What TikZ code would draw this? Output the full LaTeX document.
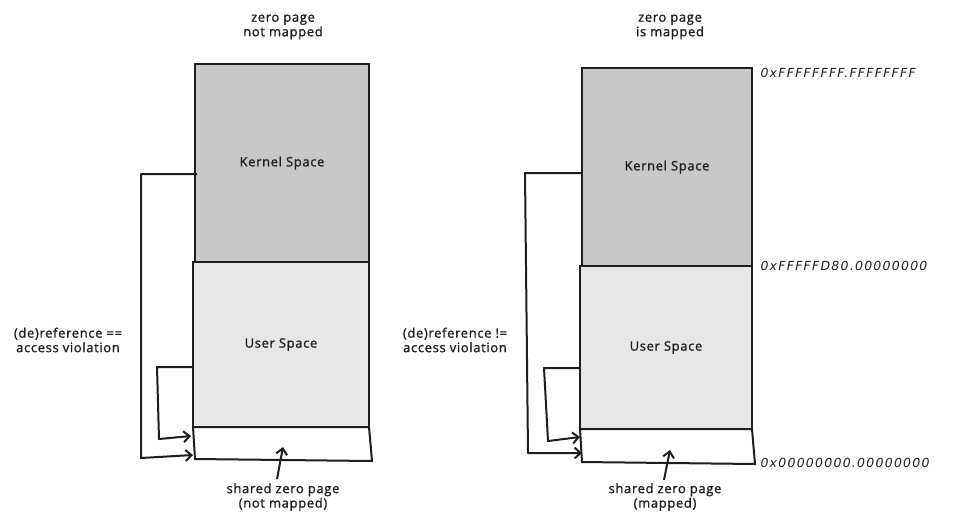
\documentclass[tikz,border=0pt]{standalone}
\usepackage{fontspec}
\setmainfont{Open Sans}
\newfontfamily\hexfont{DejaVu Sans}
\usetikzlibrary{arrows.meta}

\definecolor{kernelgray}{HTML}{C8C8C8}
\definecolor{usergray}{HTML}{E6E7E7}
\definecolor{ink}{HTML}{1E1E1E}

\newcommand{\handfont}{\fontsize{13}{14.5}\selectfont\addfontfeatures{LetterSpace=5,FakeBold=1.2}}
\newcommand{\addrfont}{\hexfont\fontsize{12.5}{14}\selectfont\itshape\addfontfeatures{LetterSpace=10}}

\tikzset{
    space/.style={draw=ink, line width=2pt, anchor=center, inner sep=0pt,
                  font=\handfont, text=ink},
    kernel/.style={space, fill=kernelgray},
    user/.style={space, fill=usergray},
    note/.style={align=center, font=\handfont, text=ink},
    addr/.style={anchor=west, font=\addrfont, text=ink},
    link/.style={draw=ink, line width=2pt, line join=round,
                 -{Straight Barb[length=6pt,width=11pt]}}
}

\begin{document}
\begin{tikzpicture}[x=1pt, y=-1pt]
        \useasboundingbox (0,0) rectangle (966,525);

        % left: zero page not mapped
        \node (titleL) [note] at (283,27) {zero page\\not mapped};
        \node (kernelL) [kernel, minimum width=174pt, minimum height=198pt] at (282,163) {Kernel Space};
        \node (userL)   [user, minimum width=176pt, minimum height=165pt]   at (281,344.5) {User Space};
        \draw[draw=ink, line width=2pt, fill=white] (193,427) -- (369,427) -- (372,461) -- (195,459) -- cycle;
        \coordinate (zeroL) at (283,447);
        \node (shareL) [note] at (283,497) {shared zero page\\(not mapped)};
        \coordinate (tailL) at (277,479);
        \node (refL)   [note] at (68,340) {(de)reference ==\\access violation};

        \coordinate (topL) at (197,174);
        \coordinate (midL) at (193,367);
        \draw[link] (topL) -- (141,174) -- (141,458) -- (193,455);
        \draw[link] (midL) -- (157,367) -- (159,439) -- (191,436);
        \draw[link] (tailL) -- (zeroL);

        % right: zero page mapped
        \node (titleR) [note] at (670,27) {zero page\\is mapped};
        \node (kernelR) [kernel, minimum width=170pt, minimum height=198pt] at (667,167) {Kernel Space};
        \node (userR)   [user, minimum width=172pt, minimum height=163pt]   at (666,347.5) {User Space};
        \draw[draw=ink, line width=2pt, fill=white] (580,429) -- (752,429) -- (755,464) -- (582,462) -- cycle;
        \coordinate (zeroR) at (670,450);
        \node (shareR) [note] at (665,497) {shared zero page\\(mapped)};
        \coordinate (tailR) at (664,480);
        \node (refR)   [note] at (455,340) {(de)reference !=\\access violation};

        \node (hiR)  [addr] at (757,73)  {0xFFFFFFFF.FFFFFFFF};
        \node (midA) [addr] at (757,266) {0xFFFFFD80.00000000};
        \node (loR)  [addr] at (757,463) {0x00000000.00000000};

        \coordinate (topR) at (582,173);
        \coordinate (midR) at (580,368);
        \draw[link] (topR) -- (525,173) -- (528,453) -- (582,453);
        \draw[link] (midR) -- (544,368) -- (548,441) -- (580,437);
        \draw[link] (tailR) -- (zeroR);
    \end{tikzpicture}
\end{document}
